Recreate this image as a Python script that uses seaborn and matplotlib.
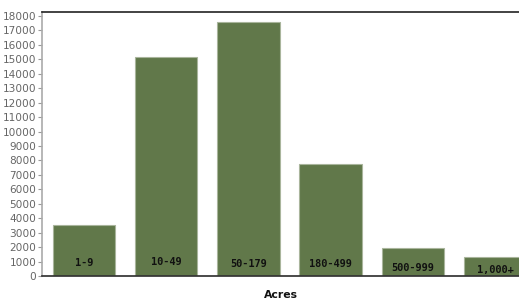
import matplotlib
matplotlib.use("Agg")
import matplotlib.pyplot as plt
import seaborn as sns
import pandas as pd

categories = ["1-9", "10-49", "50-179", "180-499", "500-999", "1,000+"]
values = [3500, 15150, 17600, 7750, 1950, 1350]
label_y = [900, 1000, 800, 850, 550, 400]
yticks = list(range(0, 18001, 1000))

sns.set_theme(style="white")
plt.rcParams['font.family'] = ['DejaVu Sans']

df = pd.DataFrame({"Acres": categories, "Farms": values})

fig = plt.figure(figsize=(5.19, 3.05), dpi=100)
ax = fig.add_axes([42/519, 29/305, 1 - 42/519, (276-12)/305])

sns.barplot(data=df, x="Acres", y="Farms", color="#61784a", saturation=1,
            width=0.76, edgecolor="#a9b59c", linewidth=0.8, ax=ax)

ax.set_xlim(-0.51, 5.29)
ax.set_ylim(0, 18280)
ax.set_yticks(yticks)
ax.set_yticklabels([str(v) for v in yticks], fontsize=7.6, color="#666666")
ax.tick_params(axis="y", length=3, width=0.8, color="#999999", pad=1, left=True)
ax.set_xticks([])
ax.set_ylabel("")
ax.set_xlabel("Acres", fontsize=7.8, fontweight="bold", color="#111111", labelpad=10)

for i, (c, ly) in enumerate(zip(categories, label_y)):
    ax.text(i, ly, c, ha="center", va="center", fontsize=7.4, fontweight="bold",
            color="#111111", family="DejaVu Sans Mono")

ax.spines["left"].set_color("#aaaaaa")
ax.spines["left"].set_linewidth(1.2)
ax.spines["bottom"].set_color("#333333")
ax.spines["top"].set_color("#222222")
ax.spines["top"].set_linewidth(1.2)
ax.spines["right"].set_visible(False)

fig.savefig("out.png", dpi=100)
